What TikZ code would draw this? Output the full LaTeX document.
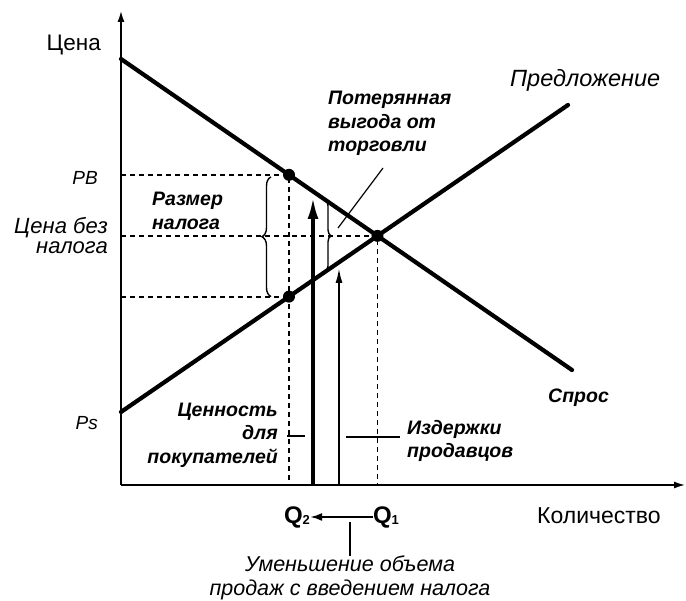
\documentclass[tikz,border=0pt]{standalone}
\usepackage{fontspec}
\setmainfont{Liberation Sans}
\usepackage{tikz}
\usetikzlibrary{arrows.meta,calc,positioning}
\usetikzlibrary{decorations.pathreplacing}

\tikzset{
  axis/.style={line width=2.2pt,-{Latex[length=12pt,width=7pt]}},
  curve/.style={line width=4.2pt,line cap=round},
  guide/.style={line width=1.8pt,dash pattern=on 5pt off 4pt},
  lbl/.style={inner sep=0pt,font=\fontsize{22}{20}\selectfont\itshape},
  axlbl/.style={inner sep=0pt,font=\fontsize{22.5}{22}\selectfont},
  note/.style={inner sep=0pt,font=\fontsize{19.5}{23.5}\selectfont\bfseries\itshape},
  dot/.style={circle,fill,inner sep=0pt,minimum size=12pt},
}

\begin{document}
\begin{tikzpicture}[x=1pt,y=-1pt]
        \useasboundingbox (0,0) rectangle (686,601);
        \coordinate (O) at (121,485);
        \coordinate (ytop) at (121,10);
        \coordinate (xend) at (686,485);
        \coordinate (d1) at (121,59);
        \coordinate (d2) at (572,370);
        \coordinate (s1) at (121,412);
        \coordinate (s2) at (568,105);
        \coordinate (E) at (intersection of d1--d2 and s1--s2);
        \coordinate (PB) at ($(d1)!0.3725!(d2)$);
        \coordinate (PS) at ($(s1)!0.3758!(s2)$);
        %Axes
        \draw[axis] (O) -- (ytop);
        \draw[axis] (O) -- (xend);
        %Dashed guides
        \draw[guide] (PB -| O) -- (PB) -- (PB |- O);
        \draw[guide] (PS -| O) -- (PS);
        \draw[guide] (E -| O) -- (E) -- (E |- O);
        %Demand and supply
        \draw[curve] (d1) -- (d2);
        \draw[curve] (s1) -- (s2);
        \node[dot] (pbdot) at (PB) {};
        \node[dot] (psdot) at (PS) {};
        \node[dot] (edot) at (E) {};
        %Braces
        \draw[line width=1.4pt,decorate,decoration={brace,amplitude=9pt}]
          ($(PS)+(-18,0)$) -- ($(PB)+(-18,2)$);
        \draw[line width=1.4pt,decorate,decoration={brace,amplitude=6pt}]
          ($(d1)!0.4523!(d2)$) -- ($(s1)!0.4564!(s2)$);
        %Value and cost arrows
        \coordinate (b0) at (313,485);
        \coordinate (b1) at (313,197);
        \coordinate (c0) at (339,485);
        \coordinate (c1) at (339,268);
        \draw[line width=3.6pt,-{Latex[length=22pt,width=11pt]}] (b0) -- (b1);
        \draw[line width=2pt,-{Latex[length=15pt,width=7pt]}] (c0) -- (c1);
        %Labels
        \node[axlbl,anchor=east] (price) at (101,45) {Цена};
        \node[axlbl,font=\fontsize{23}{23}\selectfont,anchor=west] (qty) at (537,516) {Количество};
        \node[lbl,font=\fontsize{23.5}{23}\selectfont\itshape,anchor=west] (supply) at (510,80) {Предложение};
        \node[note,anchor=west] (demand) at (548,398) {Спрос};
        \node[lbl,font=\fontsize{19}{19}\selectfont\itshape,anchor=east] (pb) at (98,178) {PB};
        \node[lbl,font=\fontsize{19}{19}\selectfont\itshape,anchor=east] (ps) at (98,423) {Ps};
        \node[lbl,align=right,anchor=east] (p0) at (108,236) {Цена без\\налога};
        \node[note,align=left,anchor=west] (tax) at (152,211) {Размер\\налога};
        \node[note,align=left,anchor=north west] (loss) at (328,91) {Потерянная\\выгода от\\торговли};
        \node[note,align=right,anchor=east] (value) at (278,435) {Ценность\\для\\покупателей};
        \node[note,align=left,anchor=west] (cost) at (407,441) {Издержки\\продавцов};
        \node[axlbl,font=\fontsize{24}{24}\selectfont\bfseries] (q2) at (297,517) {Q\raisebox{-0.1ex}{\fontsize{13}{13}\selectfont 2}};
        \node[axlbl,font=\fontsize{24}{24}\selectfont\bfseries] (q1) at (386,517) {Q\raisebox{-0.1ex}{\fontsize{13}{13}\selectfont 1}};
        \node[lbl,font=\fontsize{21.5}{24}\selectfont\itshape,align=center] (drop) at (350,578) {Уменьшение объема\\продаж с введением налога};
        %Leaders
        \coordinate (l1) at (383,168);
        \coordinate (l2) at (338,228);
        \coordinate (t1) at (287,436);
        \coordinate (t2) at (305,436);
        \coordinate (t3) at (346,437);
        \coordinate (t4) at (400,437);
        \coordinate (v0) at (350,522);
        \draw[line width=1.2pt] (l1) -- (l2);
        \draw[line width=1.5pt] (t1) -- (t2);
        \draw[line width=1.5pt] (t3) -- (t4);
        \draw[line width=2pt,-{Latex[length=12pt,width=8pt]}] (q1) -- (q2);
        \draw[line width=1.8pt] (v0) -- (v0 |- drop.north);
      \end{tikzpicture}
\end{document}
